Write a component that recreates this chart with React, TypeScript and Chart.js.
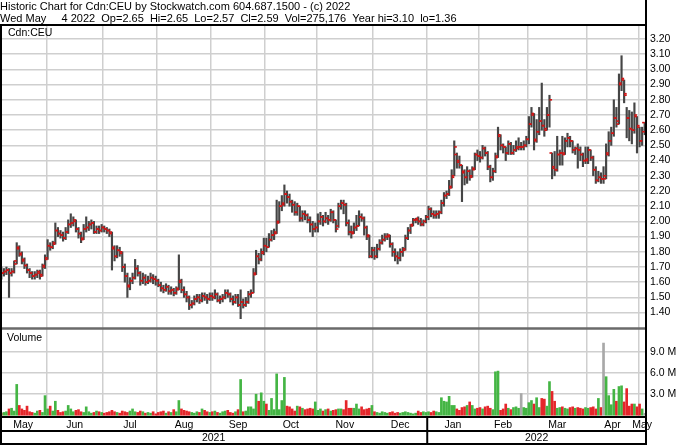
import React, { useEffect, useRef } from 'react';
import { Chart, registerables } from 'chart.js';

Chart.register(...registerables);

// ---- text ----
const titleLines = [
  'Historic Chart for Cdn:CEU by Stockwatch.com 604.687.1500 - (c) 2022',
  'Wed May     4 2022  Op=2.65  Hi=2.65  Lo=2.57  Cl=2.59  Vol=275,176  Year hi=3.10  lo=1.36',
];
const symbolLabel = 'Cdn:CEU';
const volumeLabel = 'Volume';

// ---- calendar ----
const monthNames = ['May', 'Jun', 'Jul', 'Aug', 'Sep', 'Oct', 'Nov', 'Dec', 'Jan', 'Feb', 'Mar', 'Apr', 'May'];
const monthStarts = [0, 18, 40, 61, 82, 103, 123, 145, 166, 186, 205, 228, 248];
const yearNames = ['2021', '2022'];
const yearStarts = [0, 166];

// ---- axes ----
const priceTicks = [1.4, 1.5, 1.6, 1.7, 1.8, 1.9, 2.0, 2.1, 2.2, 2.3, 2.4, 2.5, 2.6, 2.7, 2.8, 2.9, 3.0, 3.1, 3.2];
const volumeTicks = [3, 6, 9];
const volumeTickLabels = ['3.0 M', '6.0 M', '9.0 M'];

// ---- daily OHLC (May 2021 .. May 4 2022) ----
const opens = [
  1.68,1.66,1.67,1.68,1.66,1.67,1.74,1.83,1.78,1.75,1.71,1.68,1.66,1.64,1.65,1.67,1.65,1.71,
  1.76,1.84,1.83,1.86,1.94,1.92,1.91,1.89,1.93,1.98,1.99,2.00,1.95,1.92,1.89,1.95,1.96,1.98,1.99,1.93,1.95,1.94,
  1.96,1.95,1.94,1.92,1.82,1.77,1.81,1.79,1.70,1.64,1.58,1.61,1.63,1.69,1.66,1.61,1.63,1.60,1.61,1.63,1.62,
  1.61,1.58,1.56,1.55,1.57,1.54,1.55,1.53,1.56,1.60,1.55,1.52,1.50,1.45,1.46,1.49,1.50,1.48,1.51,1.50,1.49,
  1.51,1.50,1.52,1.48,1.49,1.50,1.53,1.52,1.49,1.47,1.50,1.45,1.47,1.45,1.47,1.52,1.53,1.66,1.77,1.75,1.80,
  1.84,1.83,1.88,1.91,1.93,2.00,2.10,2.12,2.18,2.16,2.13,2.11,2.06,2.10,2.02,2.05,2.04,2.01,1.98,1.95,
  1.96,2.00,2.03,2.00,2.02,2.01,2.06,2.01,1.97,2.10,2.12,2.11,1.99,1.93,1.93,1.96,1.97,2.03,2.02,1.96,1.90,1.77,
  1.81,1.77,1.82,1.86,1.88,1.90,1.90,1.85,1.80,1.77,1.76,1.80,1.82,1.89,1.94,1.98,2.01,2.01,2.00,1.98,2.00,
  2.03,2.08,2.05,2.04,2.05,2.06,2.12,2.17,2.18,2.23,2.30,2.44,2.40,2.37,2.32,2.29,2.33,2.30,2.35,2.44,
  2.43,2.42,2.48,2.45,2.36,2.29,2.33,2.43,2.56,2.50,2.49,2.45,2.51,2.45,2.47,2.49,2.49,2.49,2.50,
  2.54,2.64,2.70,2.54,2.59,2.66,2.63,2.61,2.70,2.45,2.36,2.34,2.44,2.45,2.45,2.53,2.55,2.53,2.47,2.48,2.47,2.44,2.40,
  2.40,2.47,2.42,2.34,2.27,2.29,2.28,2.30,2.45,2.53,2.58,2.68,2.66,2.90,2.93,2.83,2.68,2.61,2.60,2.69,
  2.62,2.53,2.65,
];
const highs = [
  1.70,1.69,1.70,1.69,1.69,1.74,1.86,1.84,1.80,1.76,1.72,1.69,1.67,1.67,1.68,1.68,1.72,1.78,
  1.88,1.86,1.87,1.99,1.96,1.94,1.93,1.96,2.01,2.05,2.03,2.01,1.96,1.93,1.98,2.03,2.00,2.01,2.00,1.97,1.97,1.98,
  1.97,1.96,1.95,1.93,1.84,1.84,1.83,1.80,1.72,1.66,1.63,1.66,1.75,1.71,1.67,1.66,1.65,1.64,1.66,1.65,1.64,
  1.62,1.60,1.58,1.59,1.58,1.57,1.56,1.57,1.78,1.62,1.57,1.54,1.51,1.48,1.51,1.52,1.52,1.53,1.53,1.52,1.53,
  1.53,1.55,1.53,1.51,1.52,1.55,1.55,1.53,1.51,1.52,1.52,1.55,1.49,1.50,1.54,1.55,1.69,1.81,1.79,1.82,1.89,
  1.89,1.92,1.94,1.95,2.14,2.13,2.17,2.24,2.20,2.18,2.14,2.13,2.12,2.10,2.07,2.07,2.05,2.03,2.00,1.99,
  2.05,2.06,2.04,2.06,2.04,2.08,2.07,2.01,2.12,2.14,2.14,2.12,2.01,1.97,1.99,2.04,2.07,2.05,2.03,1.97,1.91,1.83,
  1.83,1.85,1.88,1.91,1.92,1.92,1.91,1.86,1.82,1.80,1.82,1.83,1.91,1.96,1.98,2.02,2.02,2.03,2.02,2.01,2.04,
  2.10,2.09,2.07,2.07,2.07,2.14,2.19,2.20,2.27,2.34,2.53,2.45,2.43,2.37,2.34,2.36,2.34,2.36,2.45,2.47,
  2.46,2.50,2.49,2.46,2.37,2.35,2.45,2.62,2.57,2.51,2.49,2.53,2.52,2.50,2.53,2.55,2.52,2.53,2.56,
  2.69,2.75,2.71,2.67,2.75,2.91,2.67,2.75,2.83,2.45,2.46,2.56,2.47,2.56,2.55,2.58,2.56,2.53,2.49,2.51,2.49,2.45,2.49,
  2.49,2.47,2.43,2.36,2.33,2.32,2.36,2.51,2.59,2.62,2.80,2.75,2.97,3.09,2.93,2.75,2.73,2.72,2.78,2.69,
  2.62,2.62,2.65,
];
const lows = [
  1.62,1.64,1.65,1.50,1.64,1.66,1.72,1.77,1.72,1.69,1.66,1.63,1.62,1.62,1.63,1.62,1.64,1.69,
  1.75,1.81,1.82,1.85,1.90,1.89,1.87,1.88,1.92,1.96,1.97,1.93,1.89,1.86,1.88,1.93,1.94,1.95,1.92,1.92,1.92,1.93,
  1.93,1.92,1.90,1.68,1.74,1.76,1.77,1.67,1.60,1.50,1.55,1.59,1.62,1.64,1.58,1.59,1.58,1.59,1.60,1.59,1.58,
  1.57,1.54,1.53,1.54,1.52,1.52,1.51,1.52,1.55,1.53,1.50,1.47,1.42,1.43,1.45,1.47,1.46,1.47,1.48,1.46,1.48,
  1.48,1.49,1.47,1.46,1.47,1.49,1.50,1.47,1.45,1.46,1.44,1.36,1.43,1.44,1.46,1.50,1.53,1.65,1.72,1.74,1.78,
  1.80,1.83,1.87,1.88,1.92,1.99,2.07,2.10,2.12,2.10,2.06,2.04,2.04,2.00,2.00,2.01,1.99,1.93,1.90,1.93,
  1.93,1.98,1.97,1.99,1.98,2.00,1.99,1.93,1.96,2.08,2.05,1.97,1.91,1.89,1.92,1.94,1.97,2.00,1.91,1.88,1.76,1.76,
  1.75,1.76,1.81,1.85,1.87,1.88,1.83,1.77,1.74,1.72,1.74,1.77,1.81,1.88,1.92,1.97,1.99,1.98,1.97,1.97,1.99,
  2.01,2.03,2.02,2.02,2.02,2.05,2.10,2.15,2.17,2.22,2.30,2.35,2.35,2.13,2.24,2.25,2.27,2.29,2.34,2.40,
  2.39,2.41,2.43,2.34,2.26,2.27,2.32,2.42,2.47,2.45,2.40,2.44,2.44,2.44,2.46,2.47,2.47,2.47,2.49,
  2.51,2.62,2.47,2.52,2.57,2.60,2.56,2.60,2.62,2.28,2.30,2.33,2.37,2.37,2.44,2.49,2.49,2.45,2.44,2.35,2.40,2.36,2.38,
  2.38,2.40,2.30,2.25,2.26,2.25,2.25,2.28,2.43,2.50,2.56,2.62,2.64,2.86,2.78,2.55,2.53,2.51,2.58,2.45,
  2.49,2.50,2.57,
];
const closes = [
  1.66,1.67,1.68,1.66,1.67,1.72,1.82,1.79,1.74,1.71,1.68,1.66,1.64,1.65,1.66,1.64,1.70,1.75,
  1.84,1.83,1.85,1.94,1.92,1.91,1.89,1.93,1.98,1.99,2.01,1.95,1.92,1.88,1.95,1.96,1.98,1.99,1.93,1.95,1.94,1.96,
  1.95,1.94,1.93,1.83,1.77,1.81,1.80,1.70,1.64,1.57,1.61,1.63,1.69,1.66,1.61,1.63,1.60,1.61,1.63,1.62,1.61,
  1.58,1.56,1.55,1.57,1.54,1.55,1.53,1.55,1.61,1.55,1.52,1.50,1.45,1.46,1.49,1.50,1.48,1.51,1.50,1.49,1.51,
  1.50,1.52,1.48,1.49,1.50,1.53,1.52,1.49,1.47,1.50,1.45,1.47,1.45,1.47,1.52,1.53,1.65,1.77,1.75,1.79,1.84,
  1.83,1.88,1.91,1.92,1.99,2.10,2.11,2.18,2.16,2.13,2.11,2.06,2.10,2.02,2.05,2.04,2.01,1.98,1.95,1.96,
  2.00,2.03,2.00,2.02,2.01,2.06,2.01,1.95,2.10,2.12,2.11,1.99,1.93,1.92,1.96,1.97,2.03,2.02,1.96,1.91,1.77,1.81,
  1.77,1.82,1.86,1.88,1.90,1.91,1.85,1.80,1.77,1.76,1.80,1.81,1.89,1.94,1.97,2.01,2.02,2.00,1.98,2.00,2.03,
  2.08,2.05,2.04,2.05,2.06,2.12,2.17,2.18,2.22,2.29,2.49,2.39,2.37,2.33,2.29,2.33,2.29,2.34,2.44,2.43,
  2.42,2.48,2.45,2.36,2.29,2.33,2.42,2.57,2.50,2.49,2.45,2.51,2.45,2.47,2.48,2.49,2.49,2.50,2.54,
  2.64,2.71,2.53,2.59,2.66,2.63,2.60,2.70,2.80,2.35,2.34,2.44,2.45,2.44,2.53,2.55,2.53,2.47,2.48,2.47,2.44,2.40,2.41,
  2.47,2.42,2.34,2.27,2.29,2.28,2.28,2.44,2.53,2.58,2.68,2.64,2.91,2.94,2.84,2.68,2.61,2.60,2.70,2.63,
  2.53,2.59,2.59,
];
// volume in millions of shares
const volumesM = [
  0.3,0.4,0.5,0.9,1.0,0.6,4.4,1.4,0.9,0.7,1.3,0.5,0.4,0.3,0.6,0.7,0.4,2.8,
  0.9,1.3,0.6,2.0,0.7,0.4,0.5,0.6,1.4,0.9,0.5,0.7,0.8,0.5,0.4,1.2,0.5,0.3,0.4,0.6,0.5,0.4,
  0.3,0.4,0.5,0.7,0.5,0.4,0.3,0.6,0.5,0.4,0.6,0.9,0.5,0.4,0.6,0.5,0.3,0.4,0.3,0.5,0.2,
  0.4,0.5,0.6,0.3,0.5,0.4,0.8,0.5,2.1,0.9,0.7,0.6,0.5,0.4,0.3,0.5,0.4,0.9,0.7,0.5,0.4,
  0.5,0.6,0.4,0.3,0.5,0.6,0.7,0.4,0.3,0.5,0.8,5.1,0.5,0.6,1.2,1.2,0.9,3.0,2.0,3.2,2.0,
  1.6,0.7,2.4,0.8,5.9,0.8,2.1,5.4,1.3,1.2,0.9,0.6,1.3,1.2,1.0,0.8,0.9,1.0,0.9,1.9,
  0.7,0.9,0.6,0.8,0.9,0.6,0.7,0.8,0.9,0.9,0.8,2.1,1.0,1.0,1.0,1.6,0.9,1.2,0.8,0.9,1.0,1.4,
  0.5,0.4,0.3,0.5,0.4,0.3,0.4,0.5,0.3,0.4,0.3,0.4,0.5,0.4,0.3,0.2,0.3,0.6,0.4,0.5,0.4,
  0.5,0.4,0.6,0.5,0.4,2.5,2.0,1.9,2.7,1.4,1.4,0.9,0.7,1.1,1.2,1.4,1.9,1.4,0.9,1.0,
  1.1,0.9,1.2,1.3,1.0,0.8,6.2,6.3,0.7,0.9,1.6,1.0,0.8,1.1,1.2,1.0,3.1,1.1,1.0,
  1.8,2.1,1.6,2.5,1.1,2.4,2.3,1.3,4.8,3.4,2.0,1.0,1.1,1.2,1.0,0.9,1.1,1.2,1.0,1.1,1.0,0.9,1.1,
  1.0,1.1,1.2,0.9,2.4,1.1,10.3,5.5,2.8,1.5,3.7,2.0,4.1,4.2,1.9,3.8,1.3,1.6,1.6,1.2,
  1.6,0.9,0.28,
];

const FONT = '"Liberation Sans", Arial, Helvetica, sans-serif';
const GRID = '#cfcfcf';
const TICK_RED = '#d41414';
const BAR_DARK = '#454545';
const VOL_UP = '#44b544';
const VOL_DOWN = '#e5262a';
const VOL_FLAT = '#a8a8a8';

export default function App() {
  const ref = useRef<HTMLCanvasElement>(null);

  useEffect(() => {
    const canvas = ref.current;
    if (!canvas) return;
    const n = closes.length;
    const xMin = -0.5;
    const xMax = n - 0.5;
    const idx = closes.map((_, i) => i);
    const boundaries = monthStarts.slice(1).map((s) => s - 0.5);
    const monthEdges = [...monthStarts.map((s) => s - 0.5), xMax];
    const monthCenters = monthNames.map((_, k) => (monthEdges[k] + monthEdges[k + 1]) / 2);
    const yearEdges = [...yearStarts.map((s) => s - 0.5), xMax];
    const yearCenters = yearNames.map((_, k) => (yearEdges[k] + yearEdges[k + 1]) / 2);
    const volColors = idx.map((i) => {
      const prev = i === 0 ? opens[0] : closes[i - 1];
      return closes[i] > prev ? VOL_UP : closes[i] < prev ? VOL_DOWN : VOL_FLAT;
    });

    const labelFont = { family: FONT, size: 10.5, weight: 'normal' as const };
    const noPad = (s: any) => {
      s.paddingLeft = 0;
      s.paddingRight = 0;
      s.paddingTop = 0;
      s.paddingBottom = 0;
    };

    const framePlugin = {
      id: 'stockFrame',
      afterDraw(chart: any) {
        const { ctx, chartArea, scales } = chart;
        const xs = scales.x;
        const yP = scales.y;
        const yV = scales.yv;
        const xm = scales.xm;
        const xy = scales.xy;
        const H = chart.height;
        const seg = (x1: number, y1: number, x2: number, y2: number) => {
          ctx.beginPath();
          ctx.moveTo(x1, y1);
          ctx.lineTo(x2, y2);
          ctx.stroke();
        };
        ctx.save();
        // separator between price and volume panels
        ctx.strokeStyle = '#6a6a6a';
        ctx.lineWidth = 2.5;
        seg(0, yV.top + 0.5, chartArea.right, yV.top + 0.5);
        // frame
        ctx.strokeStyle = '#000';
        ctx.lineWidth = 2;
        seg(0, chartArea.top - 1, chartArea.right, chartArea.top - 1);
        seg(1, chartArea.top - 2, 1, H);
        seg(chartArea.right, 0, chartArea.right, H);
        seg(0, H - 1, chartArea.right, H - 1);
        const janX = xs.getPixelForValue(yearStarts[1] - 0.5);
        seg(janX, xm.top, janX, xy.bottom);
        // panel captions
        ctx.fillStyle = '#000';
        ctx.font = `10.5px ${FONT}`;
        ctx.textBaseline = 'middle';
        ctx.textAlign = 'left';
        ctx.fillText(symbolLabel, chartArea.left + 8, yP.top + 7);
        ctx.fillText(volumeLabel, chartArea.left + 7, yV.top + 10);
        ctx.restore();
      },
    };

    const tickSet = (label: string, values: number[], dx: number) => ({
      type: 'line',
      label,
      data: idx.map((i) => ({ x: i + dx, y: values[i] })),
      xAxisID: 'x',
      yAxisID: 'y',
      showLine: false,
      pointStyle: 'line',
      pointRadius: 1.3,
      pointBorderWidth: 1.6,
      pointBorderColor: TICK_RED,
      pointBackgroundColor: TICK_RED,
      order: 0,
    });

    const chart = new Chart(canvas, {
      type: 'line',
      data: {
        datasets: [
          tickSet('Close', closes, 0.5),
          tickSet('Open', opens, -0.5),
          {
            type: 'bar',
            label: 'Range',
            data: idx.map((i) => ({ x: i, y: [lows[i], highs[i]] })),
            xAxisID: 'x',
            yAxisID: 'y',
            backgroundColor: BAR_DARK,
            barThickness: 1.5,
            grouped: false,
            order: 1,
          },
          {
            type: 'bar',
            label: 'Volume',
            data: idx.map((i) => ({ x: i, y: volumesM[i] })),
            xAxisID: 'x',
            yAxisID: 'yv',
            backgroundColor: volColors,
            barThickness: 2,
            grouped: false,
            order: 1,
          },
        ] as any,
      },
      options: {
        animation: false,
        responsive: false,
        devicePixelRatio: 1,
        events: [],
        layout: { padding: 0, autoPadding: false },
        plugins: {
          legend: { display: false },
          tooltip: { enabled: false },
          title: {
            display: true,
            text: titleLines,
            align: 'start',
            color: '#000',
            font: { family: FONT, size: 11, weight: 'normal', lineHeight: 12 / 11 },
            padding: { top: 1, bottom: 1 },
          },
        },
        scales: {
          x: {
            type: 'linear',
            position: 'bottom',
            min: xMin,
            max: xMax,
            offset: false,
            grid: { display: true, color: GRID, lineWidth: 1.5, drawTicks: false, offset: false },
            border: { display: false },
            ticks: { display: false },
            afterBuildTicks: (s: any) => {
              s.ticks = boundaries.map((v) => ({ value: v }));
            },
            afterFit: (s: any) => {
              s.height = 0;
              noPad(s);
            },
          },
          xm: {
            type: 'linear',
            position: 'bottom',
            min: xMin,
            max: xMax,
            offset: false,
            grid: { display: false, drawTicks: false },
            border: { display: true, color: '#000', width: 2 },
            ticks: {
              autoSkip: false,
              maxRotation: 0,
              minRotation: 0,
              padding: 2,
              color: '#000',
              font: labelFont,
              callback: (_v: any, k: number) => monthNames[k],
            },
            afterBuildTicks: (s: any) => {
              s.ticks = monthCenters.map((v) => ({ value: v }));
            },
            afterFit: (s: any) => {
              s.height = 14;
              noPad(s);
            },
          },
          xy: {
            type: 'linear',
            position: 'bottom',
            min: xMin,
            max: xMax,
            offset: false,
            grid: { display: false, drawTicks: false },
            border: { display: true, color: '#000', width: 2 },
            ticks: {
              autoSkip: false,
              maxRotation: 0,
              minRotation: 0,
              padding: 1,
              color: '#000',
              font: labelFont,
              callback: (_v: any, k: number) => yearNames[k],
            },
            afterBuildTicks: (s: any) => {
              s.ticks = yearCenters.map((v) => ({ value: v }));
            },
            afterFit: (s: any) => {
              s.height = 14;
              noPad(s);
            },
          },
          y: {
            type: 'linear',
            position: 'right',
            stack: 'panels',
            stackWeight: 302,
            min: 1.2987,
            max: 3.2855,
            beginAtZero: false,
            grid: { color: GRID, lineWidth: 1.5, drawTicks: false },
            border: { display: true, color: '#000', width: 2 },
            ticks: {
              autoSkip: false,
              padding: 4,
              color: '#000',
              font: labelFont,
              callback: (v: any) => Number(v).toFixed(2),
            },
            afterBuildTicks: (s: any) => {
              s.ticks = priceTicks.map((v) => ({ value: v }));
            },
            afterFit: (s: any) => {
              s.width = 34;
              noPad(s);
            },
          },
          yv: {
            type: 'linear',
            position: 'right',
            stack: 'panels',
            stackWeight: 89,
            min: -0.25,
            max: 12.45,
            beginAtZero: false,
            grid: { color: GRID, lineWidth: 1.5, drawTicks: false },
            border: { display: true, color: '#000', width: 2 },
            ticks: {
              autoSkip: false,
              padding: 4,
              color: '#000',
              font: labelFont,
              callback: (_v: any, k: number) => volumeTickLabels[k],
            },
            afterBuildTicks: (s: any) => {
              s.ticks = volumeTicks.map((v) => ({ value: v }));
            },
            afterFit: (s: any) => {
              s.width = 34;
              noPad(s);
            },
          },
        },
      } as any,
      plugins: [framePlugin],
    });

    return () => chart.destroy();
  }, []);

  return (
    <div style={{ position: 'absolute', left: 0, top: 0, width: 680, height: 445, background: '#fff' }}>
      <canvas ref={ref} width={680} height={445} style={{ display: 'block', width: 680, height: 445 }} />
    </div>
  );
}
